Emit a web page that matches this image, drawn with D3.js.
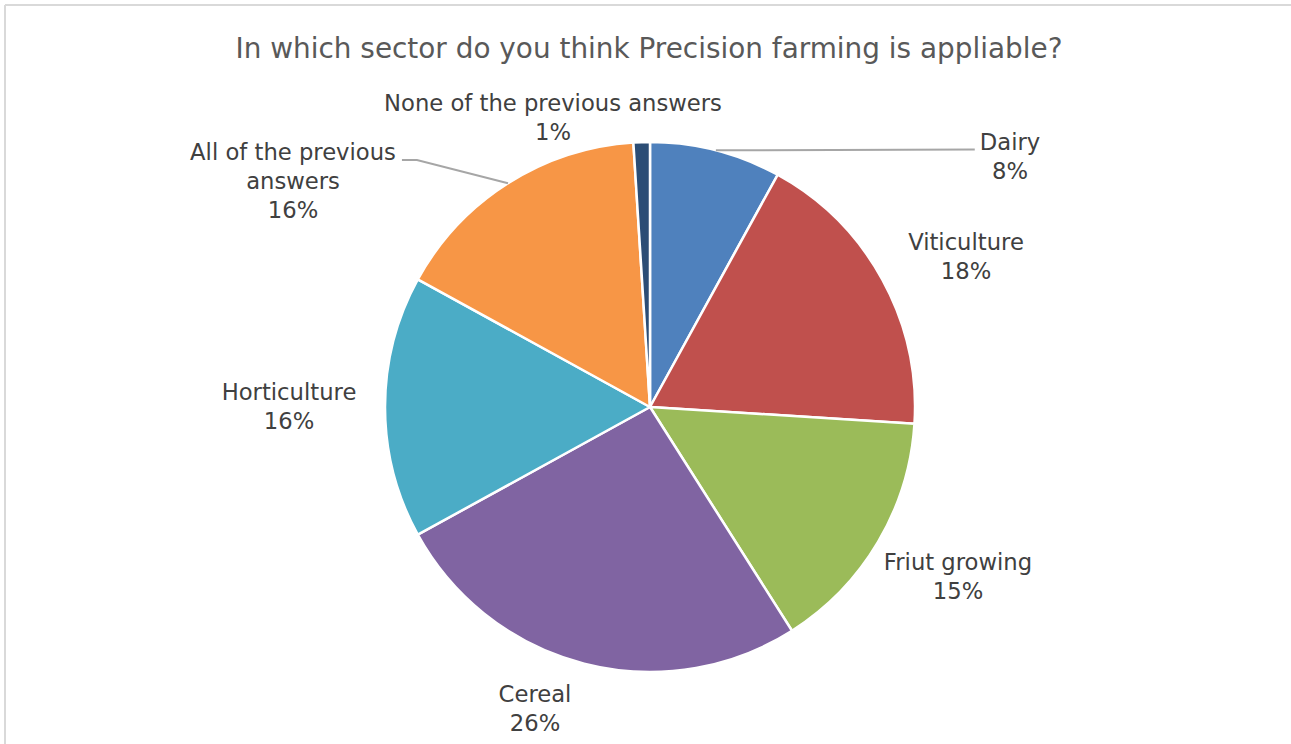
<!DOCTYPE html>
<html>
<head>
<meta charset="utf-8">
<script src="https://cdn.jsdelivr.net/npm/d3@7"></script>
<style>
  html, body { margin: 0; padding: 0; background: #ffffff; }
  svg { display: block; }
  text { font-family: "DejaVu Sans", "Noto Sans", sans-serif; }
</style>
</head>
<body>
<svg id="chart" width="1291" height="744"></svg>
<script>
// Survey answers, in drawing order starting at 12 o'clock, clockwise
const categories = ["Dairy", "Viticulture", "Friut growing", "Cereal", "Horticulture", "All of the previous answers", "None of the previous answers"];
const shares = [8, 18, 15, 26, 16, 16, 1];
const sliceColors = ["#4f81bd", "#c0504d", "#9bbb59", "#8064a2", "#4bacc6", "#f79646", "#2c4d75"];
const title = "In which sector do you think Precision farming is appliable?";

// Label text split into lines as laid out in the chart
const labelLines = {
  "Dairy": ["Dairy"],
  "Viticulture": ["Viticulture"],
  "Friut growing": ["Friut growing"],
  "Cereal": ["Cereal"],
  "Horticulture": ["Horticulture"],
  "All of the previous answers": ["All of the previous", "answers"],
  "None of the previous answers": ["None of the previous answers"]
};

const W = 1291, H = 744;
const cx = 650, cy = 407, R = 265;
const lineH = 29;

// Label block centres, as offsets from the pie centre
const labelPlacement = {
  "Dairy": { dx: 360, dy: -251, leader: true, side: "right" },
  "Viticulture": { dx: 316, dy: -151 },
  "Friut growing": { dx: 308, dy: 169 },
  "Cereal": { dx: -115, dy: 301 },
  "Horticulture": { dx: -361, dy: -1 },
  "All of the previous answers": { dx: -357, dy: -226, leader: true, side: "left" },
  "None of the previous answers": { dx: -97, dy: -290 }
};

const svg = d3.select("#chart");

// Chart frame
svg.append("line").attr("x1", 5).attr("y1", 5).attr("x2", W).attr("y2", 5)
  .attr("stroke", "#d9d9d9").attr("stroke-width", 2);
svg.append("line").attr("x1", 5).attr("y1", 5).attr("x2", 5).attr("y2", H)
  .attr("stroke", "#d9d9d9").attr("stroke-width", 2);

svg.append("text")
  .attr("x", 649).attr("y", 48)
  .attr("text-anchor", "middle")
  .attr("dominant-baseline", "central")
  .attr("font-size", 27.9)
  .attr("fill", "#595959")
  .text(title);

const data = categories.map((c, i) => ({ name: c, value: shares[i], color: sliceColors[i] }));

const pie = d3.pie().value(d => d.value).sort(null);
const arcs = pie(data);
const arc = d3.arc().innerRadius(0).outerRadius(R);

const g = svg.append("g").attr("transform", `translate(${cx},${cy})`);

g.selectAll("path.slice")
  .data(arcs)
  .join("path")
  .attr("class", "slice")
  .attr("d", arc)
  .attr("fill", d => d.data.color)
  .attr("stroke", "#ffffff")
  .attr("stroke-width", 2.5)
  .attr("stroke-linejoin", "round");

// Labels: name lines followed by the percentage
arcs.forEach(a => {
  const mid = (a.startAngle + a.endAngle) / 2;
  const place = labelPlacement[a.data.name];
  const lx = place.dx, ly = place.dy;

  const lines = labelLines[a.data.name].concat([d3.format(".0%")(a.data.value / 100)]);
  const n = lines.length;
  const t = g.append("text")
    .attr("text-anchor", "middle")
    .attr("font-size", 22.7)
    .attr("fill", "#404040");
  lines.forEach((s, i) => {
    t.append("tspan")
      .attr("x", lx)
      .attr("y", ly + (i - (n - 1) / 2) * lineH)
      .attr("dominant-baseline", "central")
      .text(s);
  });

  if (place.leader) {
    const ax = Math.sin(mid) * R, ay = -Math.cos(mid) * R;
    const firstY = ly - (n - 1) / 2 * lineH;
    const w = t.select("tspan").node().getComputedTextLength();
    let pts;
    if (place.side === "right") {
      const ex = lx - w / 2 - 5;
      pts = [[ax, ay], [ex, firstY + 8]];
    } else {
      const ex = lx + w / 2 + 6;
      pts = [[ax, ay], [ex + 15, firstY + 8], [ex, firstY + 8]];
    }
    g.append("path")
      .attr("d", d3.line()(pts))
      .attr("fill", "none")
      .attr("stroke", "#a6a6a6")
      .attr("stroke-width", 2);
  }
});
</script>
</body>
</html>
